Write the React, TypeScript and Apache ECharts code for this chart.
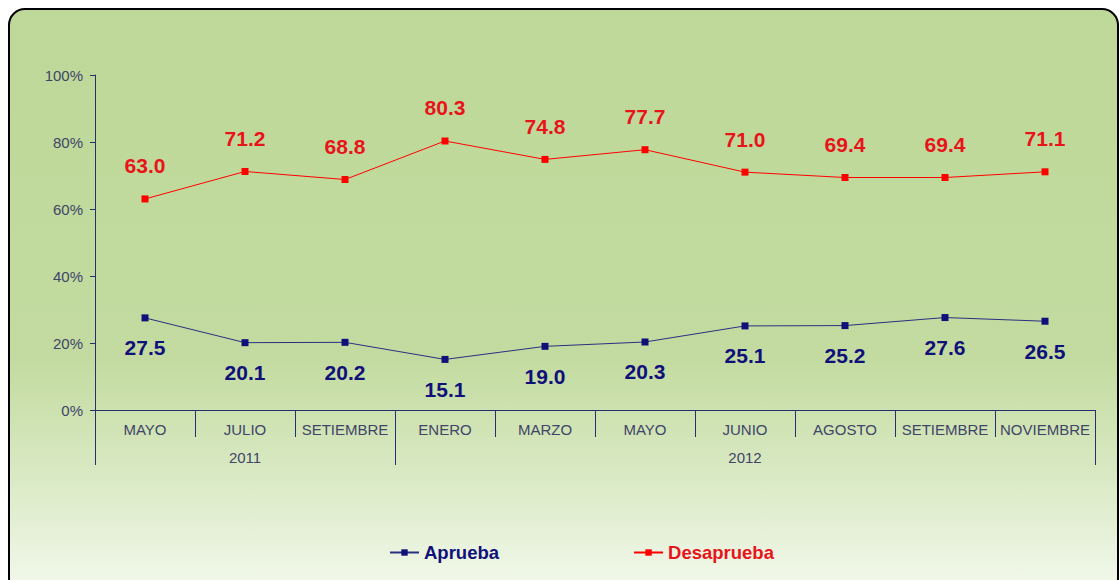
import React, { useEffect, useRef } from "react";
import * as echarts from "echarts";

const months = ["MAYO", "JULIO", "SETIEMBRE", "ENERO", "MARZO", "MAYO", "JUNIO", "AGOSTO", "SETIEMBRE", "NOVIEMBRE"];
const years = ["2011", "2011", "2011", "2012", "2012", "2012", "2012", "2012", "2012", "2012"];
const aprueba = [27.5, 20.1, 20.2, 15.1, 19.0, 20.3, 25.1, 25.2, 27.6, 26.5];
const desaprueba = [63.0, 71.2, 68.8, 80.3, 74.8, 77.7, 71.0, 69.4, 69.4, 71.1];
const yearLabelIdx = [1, 6];
const yearTickIdx = [0, 3];

const FONT = "'Liberation Sans', Arial, sans-serif";
const AXIS = "#26306a";
const NAVY = "#10107a";
const RED = "#ff0000";
const RED_TXT = "#e8141b";
const LABEL = "#404468";

export default function App() {
  const ref = useRef<HTMLDivElement>(null);
  useEffect(() => {
    const chart = echarts.init(ref.current!, null, { renderer: "svg" });
    chart.setOption({
      animation: false,
      textStyle: { fontFamily: FONT },
      graphic: [
        {
          type: "rect",
          z: -10,
          silent: true,
          shape: { x: 9, y: 9, width: 1109, height: 585, r: 16 },
          style: {
            fill: new echarts.graphic.LinearGradient(0, 0, 0, 1, [
              { offset: 0, color: "#bdd898" },
              { offset: 0.6, color: "#c3dba0" },
              { offset: 0.82, color: "#dcebc8" },
              { offset: 1, color: "#f4f9ee" },
            ]),
            stroke: "#000000",
            lineWidth: 2,
          },
        },
      ],
      grid: { left: 95, right: 25, top: 75, bottom: 170, containLabel: false },
      legend: {
        bottom: 13,
        left: 384,
        itemGap: 134,
        itemWidth: 29,
        itemHeight: 8,
        data: [
          { name: "Aprueba", textStyle: { color: NAVY } },
          { name: "Desaprueba", textStyle: { color: RED_TXT } },
        ],
        textStyle: { fontSize: 18.5, fontWeight: "bold", fontFamily: FONT },
      },
      xAxis: [
        {
          type: "category",
          data: months,
          boundaryGap: true,
          axisLine: { show: true, lineStyle: { color: AXIS, width: 1 } },
          axisTick: { show: true, length: 27, lineStyle: { color: AXIS } },
          axisLabel: { color: LABEL, fontSize: 15, margin: 12, interval: 0, fontFamily: FONT },
        },
        {
          type: "category",
          data: years,
          position: "bottom",
          boundaryGap: true,
          axisLine: { show: false },
          axisTick: {
            show: true,
            length: 55,
            interval: (i: number) => yearTickIdx.includes(i),
            lineStyle: { color: AXIS },
          },
          axisLabel: {
            color: LABEL,
            fontSize: 15,
            margin: 40,
            interval: (i: number) => yearLabelIdx.includes(i),
            fontFamily: FONT,
          },
        },
      ],
      yAxis: {
        type: "value",
        min: 0,
        max: 100,
        interval: 20,
        axisLine: { show: true, lineStyle: { color: AXIS } },
        axisTick: { show: true, length: 5, lineStyle: { color: AXIS } },
        splitLine: { show: false },
        axisLabel: { formatter: "{value}%", color: LABEL, fontSize: 15, margin: 12, fontFamily: FONT },
      },
      series: [
        {
          name: "Aprueba",
          type: "line",
          data: aprueba,
          symbol: "rect",
          symbolSize: 7,
          itemStyle: { color: NAVY },
          lineStyle: { color: "#2a2f80", width: 1 },
          label: {
            show: true,
            position: "bottom",
            distance: 16,
            color: NAVY,
            fontSize: 21,
            fontWeight: "bold",
            fontFamily: FONT,
            formatter: (p: any) => p.value.toFixed(1),
          },
        },
        {
          name: "Desaprueba",
          type: "line",
          data: desaprueba,
          symbol: "rect",
          symbolSize: 7,
          itemStyle: { color: RED },
          lineStyle: { color: RED, width: 1 },
          label: {
            show: true,
            position: "top",
            distance: 19,
            color: RED_TXT,
            fontSize: 21,
            fontWeight: "bold",
            fontFamily: FONT,
            formatter: (p: any) => p.value.toFixed(1),
          },
        },
      ],
    });
    return () => chart.dispose();
  }, []);
  return <div ref={ref} style={{ position: "absolute", left: 0, top: 0, width: 1120, height: 580 }} />;
}
